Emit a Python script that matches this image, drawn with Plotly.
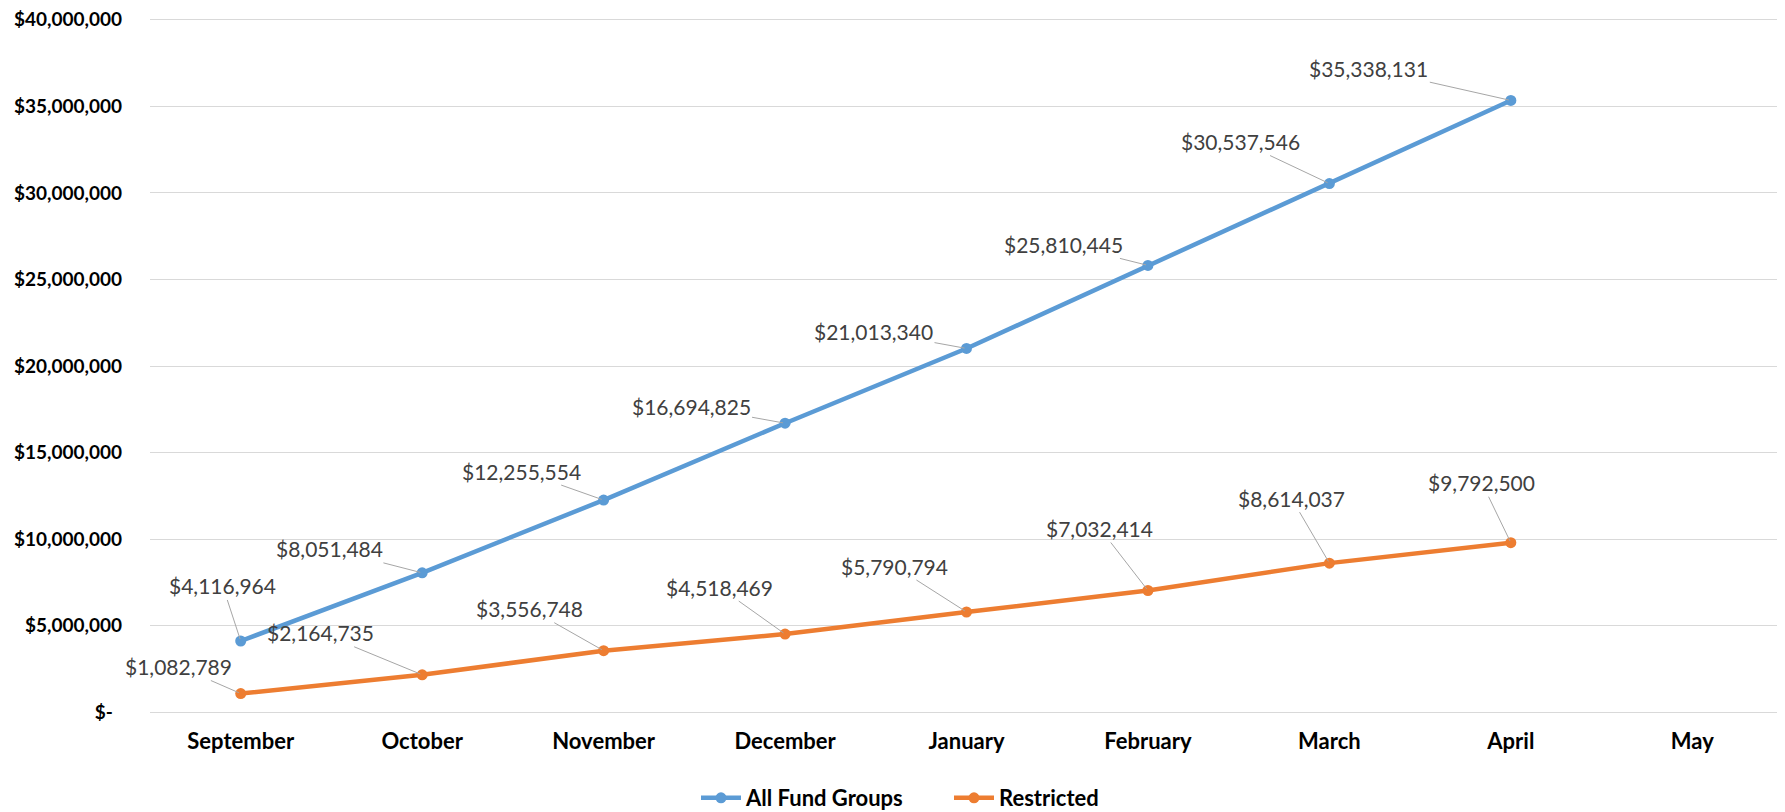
import plotly.graph_objects as go

months = ["September", "October", "November", "December", "January",
          "February", "March", "April", "May"]
all_fund = [4116964, 8051484, 12255554, 16694825, 21013340,
            25810445, 30537546, 35338131]
restricted = [1082789, 2164735, 3556748, 4518469, 5790794,
              7032414, 8614037, 9792500]
y_ticks = [0, 5000000, 10000000, 15000000, 20000000, 25000000,
           30000000, 35000000, 40000000]
y_tick_text = ["$-\u00a0\u00a0"] + ["${:,.0f}".format(v) for v in y_ticks[1:]]

# label offsets (pixels, label centre relative to point)
off_all = [(-18, -55), (-93, -24), (-82, -29), (-94, -17), (-93, -17),
           (-84, -21), (-89, -42), (-142, -32)]
off_res = [(-62, -27), (-102, -42), (-74, -42), (-66, -47), (-72, -46),
           (-48, -62), (-38, -65), (-29, -60)]

BLUE = "#5B9BD5"
ORANGE = "#ED7D31"
FONT = "Lato"

W, H = 1777, 804

fig = go.Figure()
fig.add_trace(go.Scatter(x=months[:len(all_fund)], y=all_fund, name="All Fund Groups",
                         mode="lines+markers",
                         line=dict(color=BLUE, width=4.5),
                         marker=dict(color=BLUE, size=11)))
fig.add_trace(go.Scatter(x=months[:len(restricted)], y=restricted, name="Restricted",
                         mode="lines+markers",
                         line=dict(color=ORANGE, width=4.5),
                         marker=dict(color=ORANGE, size=11)))

annotations = []
for series, offs in ((all_fund, off_all), (restricted, off_res)):
    for m, v, (ax, ay) in zip(months, series, offs):
        annotations.append(dict(
            x=m, y=v, xref="x", yref="y",
            text="${:,.0f}".format(v),
            showarrow=True, arrowhead=0, arrowwidth=1, arrowcolor="#A6A6A6",
            ax=ax, ay=ay, standoff=2,
            font=dict(family=FONT, size=21, color="#404040"),
        ))

fig.update_layout(
    width=W, height=H,
    margin=dict(l=142, r=2, t=10, b=98, autoexpand=False),
    paper_bgcolor="white", plot_bgcolor="white",
    font=dict(family=FONT, color="black"),
    annotations=annotations,
    showlegend=True,
    legend=dict(orientation="h", xref="container", yref="container",
                x=941 / W, xanchor="center", y=(H - 790) / H, yanchor="middle",
                font=dict(family=FONT, size=22, color="black", weight="bold"),
                itemwidth=40, tracegroupgap=0, entrywidth=198),
    xaxis=dict(type="category", categoryorder="array", categoryarray=months,
               range=[-0.5, len(months) - 0.5], automargin=False,
               tickmode="array", tickvals=months, ticktext=months,
               showgrid=False, showline=False, zeroline=False,
               ticks="", ticklabelstandoff=12,
               tickfont=dict(family=FONT, size=22, color="black", weight="bold")),
    yaxis=dict(range=[-100000, 40100000], tickmode="array", tickvals=y_ticks,
               ticktext=y_tick_text, automargin=False,
               ticklabeloverflow="allow",
               showgrid=True, gridcolor="#D9D9D9", gridwidth=1,
               zeroline=False, showline=False, ticks="",
               ticklabelstandoff=27,
               tickfont=dict(family=FONT, size=19, color="black", weight="bold")),
)

fig.write_html("out.html")
